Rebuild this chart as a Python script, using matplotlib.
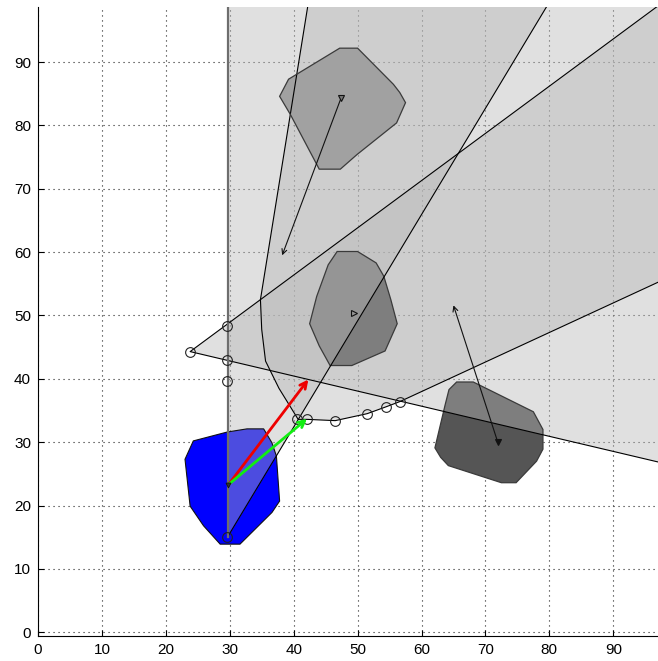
import numpy as np
import matplotlib
matplotlib.use("Agg")
import matplotlib.pyplot as plt
from matplotlib.patches import Polygon

plt.rcParams['font.family'] = ['Liberation Sans', 'DejaVu Sans']

# ---------------- data ----------------
x_ticks = [0, 10, 20, 30, 40, 50, 60, 70, 80, 90]
y_ticks = [0, 10, 20, 30, 40, 50, 60, 70, 80, 90]

# cone A (apex and the points where its rays leave the axes)
coneA_apex = (23.8, 44.3)
coneA_upper = (96.9, 98.8)
coneA_lower = (96.9, 26.9)

# cone D (apex at bottom of robot, vertical left ray, right ray)
coneD_apex = (29.7, 15.1)
coneD_left = (29.7, 98.8)
coneD_right = (79.6, 98.8)

# region B: left boundary curve (bottom -> top) and lower path
curveB_x = [40.7, 37.7, 35.6, 35.0, 34.8, 42.2]
curveB_y = [33.6, 38.5, 42.8, 47.8, 52.5, 98.8]
pathB_x = [40.7, 42.1, 46.5, 51.5, 54.5, 56.6, 96.9]
pathB_y = [33.6, 33.6, 33.4, 34.5, 35.6, 36.4, 55.2]

# obstacles
obs1_x = [47.2, 50.0, 55.6, 56.6, 57.5, 56.1, 49.9, 47.3, 44.0, 39.5, 37.8, 39.2]
obs1_y = [92.2, 92.2, 86.5, 85.2, 83.6, 80.4, 75.4, 73.1, 73.1, 81.7, 84.6, 87.3]
obs2_x = [46.8, 50.0, 52.9, 54.1, 55.2, 56.2, 54.3, 49.1, 45.7, 44.0, 42.5, 43.6, 45.4]
obs2_y = [60.1, 60.1, 58.3, 56.2, 52.5, 48.7, 44.4, 42.1, 42.1, 45.2, 48.7, 53.0, 58.0]
obs3_x = [65.5, 68.1, 77.5, 79.0, 79.0, 78.0, 74.8, 72.5, 64.2, 63.0, 62.1, 63.7, 64.3]
obs3_y = [39.5, 39.5, 34.8, 32.0, 28.9, 27.0, 23.6, 23.6, 26.3, 27.6, 29.1, 35.9, 38.3]

# robot (blue)
robot_x = [24.3, 29.6, 32.7, 35.3, 36.6, 37.3, 37.8, 36.6, 31.6, 28.5, 25.9, 23.8, 23.0]
robot_y = [30.2, 31.6, 32.1, 32.1, 29.9, 27.8, 20.7, 18.9, 13.9, 13.9, 16.8, 19.9, 27.3]

# circles
circ_x = [29.6, 23.8, 29.6, 29.6, 29.6, 40.5, 42.1, 46.5, 51.5, 54.5, 56.6]
circ_y = [48.4, 44.3, 42.9, 39.7, 15.1, 33.6, 33.6, 33.4, 34.5, 35.6, 36.4]

# arrows
robot_pos = (29.8, 23.3)
red_tip = (42.3, 39.9)
green_tip = (42.1, 33.7)
obs1_center = (47.4, 84.3)
obs1_vel_tip = (38.2, 59.5)
obs2_center = (49.5, 50.4)
obs3_center = (71.9, 30.1)
obs3_vel_tip = (65.0, 51.6)

# ---------------- style ----------------
LAYER = (0.717, 0.717, 0.717, 0.42)
OBS1_C = '#929292'
OBS23_C = '#555555'


def extend(p0, p1, k):
    return (p0[0] + k * (p1[0] - p0[0]), p0[1] + k * (p1[1] - p0[1]))


fig = plt.figure(figsize=(6.58, 6.61), dpi=100)
ax = fig.add_axes([38 / 658, 25 / 661, 620 / 658, 629 / 661])
ax.set_xlim(0, 97)
ax.set_ylim(-0.6, 98.7)

# grid
ax.set_xticks(x_ticks)
ax.set_yticks(y_ticks)
ax.grid(True, color='#222222', linestyle=(0, (1, 3.5)), linewidth=0.8)
ax.set_axisbelow(True)

# region B (under the obstacles)
curve = list(zip(curveB_x, curveB_y))
path = list(zip(pathB_x, pathB_y))
top_ext = extend(curve[-2], curve[-1], 1.6)
right_ext = extend(path[-2], path[-1], 1.5)
polyB = [top_ext] + curve[::-1] + path[1:] + [right_ext, (200, 200)]
ax.add_patch(Polygon(polyB, closed=True, facecolor=LAYER, edgecolor='none', zorder=1))
bx = [top_ext[0]] + [p[0] for p in curve[::-1]] + [p[0] for p in path[1:]] + [right_ext[0]]
by = [top_ext[1]] + [p[1] for p in curve[::-1]] + [p[1] for p in path[1:]] + [right_ext[1]]
ax.plot(bx, by, color='black', lw=0.8, zorder=4)

# obstacles and robot (fill below the cones, outline above them)
obstacles = [(obs1_x, obs1_y, OBS1_C), (obs2_x, obs2_y, OBS23_C), (obs3_x, obs3_y, OBS23_C)]
for ox, oy, col in obstacles:
    pts = list(zip(ox, oy))
    ax.add_patch(Polygon(pts, closed=True, facecolor=col, edgecolor='none', zorder=2))
    ax.add_patch(Polygon(pts, closed=True, facecolor='none', edgecolor='#3a3a3a',
                         lw=0.9, zorder=4))
ax.add_patch(Polygon(list(zip(robot_x, robot_y)), closed=True, facecolor='#0000ff',
                     edgecolor='none', zorder=2))
ax.add_patch(Polygon(list(zip(robot_x, robot_y)), closed=True, facecolor='none',
                     edgecolor='#111111', lw=0.8, zorder=4))

# cone A
a_up = extend(coneA_apex, coneA_upper, 2.0)
a_lo = extend(coneA_apex, coneA_lower, 2.0)
ax.add_patch(Polygon([coneA_apex, a_up, a_lo], closed=True, facecolor=LAYER,
                     edgecolor='none', zorder=3))
ax.plot([a_up[0], coneA_apex[0], a_lo[0]], [a_up[1], coneA_apex[1], a_lo[1]],
        color='black', lw=0.8, zorder=4)

# cone D
d_l = extend(coneD_apex, coneD_left, 2.0)
d_r = extend(coneD_apex, coneD_right, 2.0)
ax.add_patch(Polygon([coneD_apex, d_l, d_r], closed=True, facecolor=LAYER,
                     edgecolor='none', zorder=3))
ax.plot([coneD_apex[0], d_r[0]], [coneD_apex[1], d_r[1]], color='black', lw=0.8, zorder=4)
ax.plot([coneD_apex[0], d_l[0]], [coneD_apex[1], d_l[1]], color='#6e6e6e', lw=1.6, zorder=4)

# circles
ax.plot(circ_x, circ_y, linestyle='none', marker='o', ms=7, mfc='none',
        mec='#222222', mew=0.8, zorder=5)

# arrows
ax.annotate('', xy=red_tip, xytext=robot_pos,
            arrowprops=dict(arrowstyle='->', color='#ee0000', lw=2.0,
                            shrinkA=0, shrinkB=0, mutation_scale=12), zorder=6)
ax.annotate('', xy=green_tip, xytext=robot_pos,
            arrowprops=dict(arrowstyle='->', color='#11ee11', lw=2.0,
                            shrinkA=0, shrinkB=0, mutation_scale=12), zorder=6)
ax.annotate('', xy=obs1_vel_tip, xytext=obs1_center,
            arrowprops=dict(arrowstyle='->', color='#111111', lw=0.8,
                            shrinkA=0, shrinkB=0, mutation_scale=9), zorder=6)
ax.annotate('', xy=obs3_vel_tip, xytext=obs3_center,
            arrowprops=dict(arrowstyle='->', color='#111111', lw=0.8,
                            shrinkA=0, shrinkB=0, mutation_scale=9), zorder=6)

# obstacle heading markers
ax.plot([obs1_center[0]], [obs1_center[1]], marker='v', ms=5, mfc='#777777',
        mec='#111111', mew=0.8, zorder=6)
ax.plot([obs2_center[0]], [obs2_center[1]], marker='>', ms=5, mfc='none',
        mec='#111111', mew=0.8, zorder=6)
ax.plot([obs3_center[0]], [obs3_center[1]], marker='v', ms=5, mfc='#111111',
        mec='#111111', mew=0.8, zorder=6)
ax.plot([robot_pos[0]], [robot_pos[1]], marker='v', ms=3.5, mfc='#333333',
        mec='#111111', mew=0.6, zorder=7)

# axes styling (MATLAB-like)
ax.spines['top'].set_visible(False)
ax.spines['right'].set_visible(False)
ax.spines['left'].set_linewidth(0.8)
ax.spines['bottom'].set_linewidth(0.8)
ax.tick_params(direction='in', length=4, width=0.8, labelsize=11, pad=5,
               top=False, right=False)

fig.savefig('out.png', dpi=100)
